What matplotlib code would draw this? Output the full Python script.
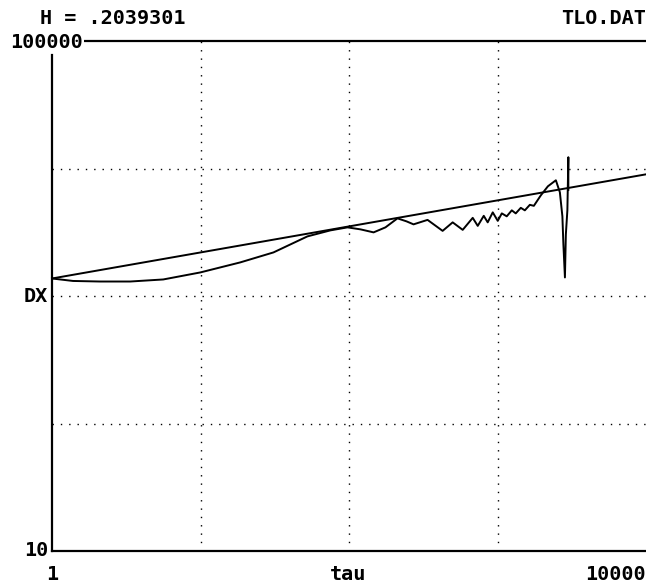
import numpy as np
import matplotlib.pyplot as plt

# data
tau = [1, 1.386, 2.107, 3.36, 5.61, 9.96, 18.5, 31.0, 52.5, 75.0, 97.7,
       119.6, 146.4, 176, 212, 244, 272, 338, 427, 499, 583, 681, 736,
       808, 859, 929, 1004, 1069, 1154, 1248, 1327, 1435, 1528, 1651,
       1757, 1959, 2185, 2472, 2630, 2735, 2778, 2845, 2886, 2955, 3000,
       3000]
dx = [1372, 1312, 1299, 1299, 1348, 1530, 1834, 2197, 2935, 3272, 3454,
      3331, 3155, 3454, 4064, 3850, 3647, 3954, 3242, 3781, 3302, 4102,
      3548, 4254, 3781, 4529, 3885, 4446, 4216, 4697, 4446, 4916, 4697,
      5189, 5096, 6164, 7253, 8085, 6509, 4216, 2540, 1398, 3043, 4700,
      12260, 6800]
# fitted line (slope H)
fit_tau = [1, 10000]
fit_dx = [1372, 9000]

W, H = 646, 585
fig = plt.figure(figsize=(W/100, H/100), dpi=100, facecolor="white")
ax = fig.add_axes([52/W, 1-551/H, 594/W, 510/H])
ax.set_xscale("log")
ax.set_yscale("log")
ax.set_xlim(1, 10000)
ax.set_ylim(10, 100000)
ax.set_xticks([])
ax.set_yticks([])
ax.minorticks_off()
ax.tick_params(which="both", length=0)
ax.set_xticklabels([], minor=True)
ax.set_yticklabels([], minor=True)

for s in ["left", "bottom", "top"]:
    ax.spines[s].set_linewidth(1.6)
ax.spines["right"].set_visible(False)
ax.spines["left"].set_bounds(10, 78000)

#grid
for g in [10, 100, 1000]:
    ax.axvline(g, color="black", linewidth=1.0, linestyle=(0, (1, 5)))
for g in [100, 1000, 10000]:
    ax.axhline(g, color="black", linewidth=1.0, linestyle=(0, (1, 5)))

ax.plot(fit_tau, fit_dx, color="black", linewidth=1.4, clip_on=False)
ax.plot(tau, dx, color="black", linewidth=1.4)

fnt = dict(family="DejaVu Sans Mono", weight="bold", size=14.5, color="black")
def txt(x, y, s, ha="left", bg=False):
    t = fig.text(x/W, 1-y/H, s, ha=ha, va="center", **fnt)
    if bg:
        t.set_bbox(dict(facecolor="white", edgecolor="none", pad=0.5))

txt(40, 18, "H = .2039301")
txt(646, 18, "TLO.DAT", ha="right")
txt(83, 42, "100000", ha="right", bg=True)
txt(48, 296, "DX", ha="right")
txt(48, 550, "10", ha="right")
txt(52, 575, "1", ha="center")
txt(348, 575, "tau", ha="center")
txt(646, 575, "10000", ha="right")

fig.savefig("out.png", dpi=100, facecolor="white")
